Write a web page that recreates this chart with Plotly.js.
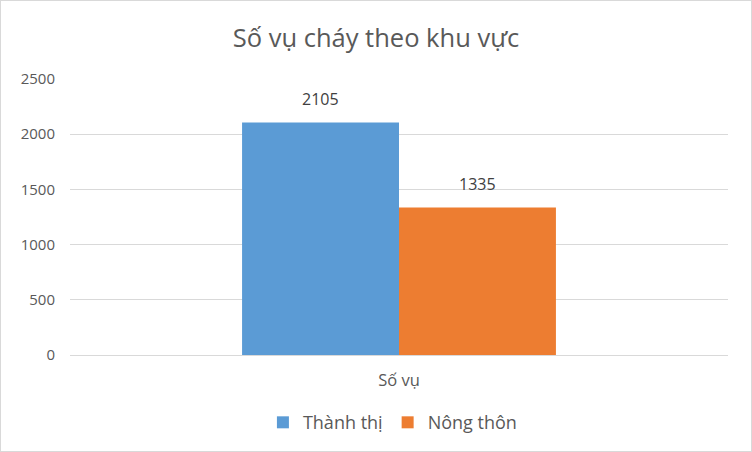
<!DOCTYPE html>
<html>
<head>
<meta charset="utf-8">
<script src="https://cdn.plot.ly/plotly-3.0.1.min.js"></script>
<style>
html,body{margin:0;padding:0;background:#fff;}
#chart{width:750px;height:450px;border:1px solid #d9d9d9;}
</style>
</head>
<body>
<div id="chart"></div>
<script>
const categories = ["Số vụ"];
const seriesNames = ["Thành thị", "Nông thôn"];
const thanhThi = [2105];
const nongThon = [1335];
const yTicks = [0, 500, 1000, 1500, 2000, 2500];

const font = "'Open Sans', 'Noto Sans', sans-serif";
const traces = [
  {type:'bar', name:seriesNames[0], x:categories, y:thanhThi, marker:{color:'#5B9BD5'}, offsetgroup:'a'},
  {type:'bar', name:seriesNames[1], x:categories, y:nongThon, marker:{color:'#ED7D31'}, offsetgroup:'b'}
];
const bargap = 0.523;
// data labels placed above each grouped bar
const annotations = [];
[thanhThi, nongThon].forEach((vals, i) => {
  vals.forEach((v, j) => {
    annotations.push({x:categories[j], y:v, xref:'x', yref:'y', text:String(v), showarrow:false,
      xshift:(i === 0 ? -1 : 1) * 78.5, yshift:11, yanchor:'bottom',
      font:{size:16, color:'#404040', family:font}});
  });
});
const layout = {
  width:750, height:450,
  margin:{l:69, r:23, t:78, b:96, autoexpand:false},
  paper_bgcolor:'#fff', plot_bgcolor:'#fff',
  font:{family:font, color:'#595959'},
  title:{text:'Số vụ cháy theo khu vực', font:{size:25.5, color:'#595959', family:font}, x:0.5, xanchor:'center', y:0.918, yanchor:'middle'},
  barmode:'group', bargap:bargap, bargroupgap:0,
  xaxis:{type:'category', showgrid:false, showline:false, zeroline:false, ticks:'',
         tickfont:{size:16.5, color:'#595959'}, ticklabelstandoff:13},
  yaxis:{range:[0,2500], tickvals:yTicks, ticktext:yTicks.map(String), showgrid:true, gridcolor:'#d9d9d9', gridwidth:1,
         zeroline:true, zerolinecolor:'#d9d9d9', zerolinewidth:1, showline:false, ticks:'',
         tickfont:{size:15, color:'#595959'}, ticklabelstandoff:14},
  annotations:annotations,
  showlegend:true,
  legend:{orientation:'h', x:0.49, xanchor:'center', y:-0.245, yanchor:'middle', itemwidth:30,
          font:{size:18, color:'#595959'}, traceorder:'normal'}
};
Plotly.newPlot('chart', traces, layout, {displayModeBar:false, staticPlot:true});
</script>
</body>
</html>
